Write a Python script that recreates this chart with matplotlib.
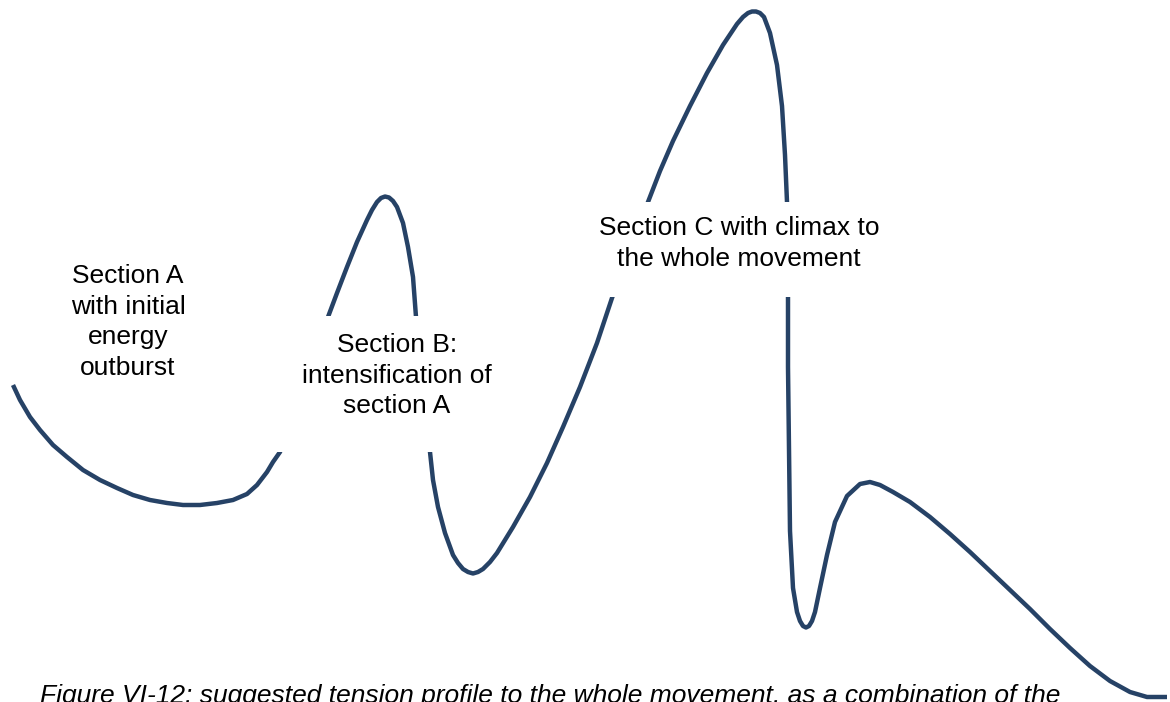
import numpy as np
import matplotlib
matplotlib.use("Agg")
import matplotlib.pyplot as plt
from matplotlib.patches import Rectangle

# tension profile (x to the right, y downwards, pixels)
profile_x = [13, 20, 30, 40, 53, 67, 83, 100, 117, 133, 150, 167, 183, 200,
             217, 233, 247, 257, 267, 273, 280,
             292, 304, 316,
             328, 337, 347, 357, 367, 372, 377, 381, 385, 389, 393, 397, 403,
             408, 413, 416,
             419, 422, 426,
             430, 433, 438, 445, 453, 458, 463, 468, 473, 478, 483, 490, 497,
             513, 530, 547, 563, 580, 597, 612,
             624, 636,
             648, 660, 673, 690, 707, 723, 737, 743, 748, 752, 756, 760, 764,
             770, 777, 782, 785, 787,
             788,
             788, 788, 789, 790, 793, 797, 800, 803, 806, 809, 812, 815, 820,
             827, 835, 847, 860, 870, 880, 893, 910, 930, 950, 970, 990, 1010,
             1030, 1050, 1070, 1090, 1110, 1130, 1147, 1160, 1167]
profile_y = [385, 400, 417, 430, 445, 457, 470, 480, 488, 495, 500, 503, 505,
             505, 503, 500, 494, 485, 472, 462, 452,
             420, 385, 350,
             317, 293, 267, 242, 220, 210, 202, 198, 196.5, 197.5, 201, 207,
             223, 247, 277, 317,
             350, 385, 420,
             452, 480, 507, 533, 555, 563, 569, 572, 573.5, 572, 569, 562, 553,
             527, 497, 463, 427, 387, 343, 298,
             265, 233,
             202, 171, 141, 106, 73, 45, 24, 17, 13, 11.5, 11.5, 13, 17,
             33, 65, 106, 155, 202,
             250,
             298, 367, 449, 531, 588, 612, 621, 626, 627.5, 626, 621, 612, 588,
             555, 522, 496, 484, 482, 485, 492, 502, 517, 534, 552, 571, 590,
             609, 629, 648, 666, 681, 692, 697, 697, 697]

label_a = "Section A\nwith initial\nenergy\noutburst"
label_b = "Section B:\nintensification of\nsection A"
label_c = "Section C with climax to\nthe whole movement"
caption = ("Figure VI-12: suggested tension profile to the whole movement, "
           "as a combination of the")

line_color = "#264266"

fig = plt.figure(figsize=(11.7, 7.02), dpi=100)
ax = fig.add_axes([0, 0, 1, 1])
ax.set_xlim(0, 1170)
ax.set_ylim(702, 0)
ax.axis("off")

ax.plot(profile_x, profile_y, color=line_color, lw=3.2,
        solid_joinstyle="round", solid_capstyle="butt", zorder=1)

# white text boxes that cut the line
ax.add_patch(Rectangle((275, 316), 225, 136, facecolor="white",
                       edgecolor="none", zorder=2))
ax.add_patch(Rectangle((592, 202), 300, 95, facecolor="white",
                       edgecolor="none", zorder=2))

font = "Liberation Sans"
fs = 19
ax.text(128, 264, label_a, ha="center", va="top", fontsize=fs,
        family=font, linespacing=1.35, zorder=3)
ax.text(397, 333, label_b, ha="center", va="top", fontsize=fs,
        family=font, linespacing=1.35, zorder=3)
ax.text(739, 216, label_c, ha="center", va="top", fontsize=fs,
        family=font, linespacing=1.35, zorder=3)
ax.text(40, 684, caption, ha="left", va="top", fontsize=fs,
        family=font, style="italic", zorder=3)

fig.savefig("out.png", dpi=100)
